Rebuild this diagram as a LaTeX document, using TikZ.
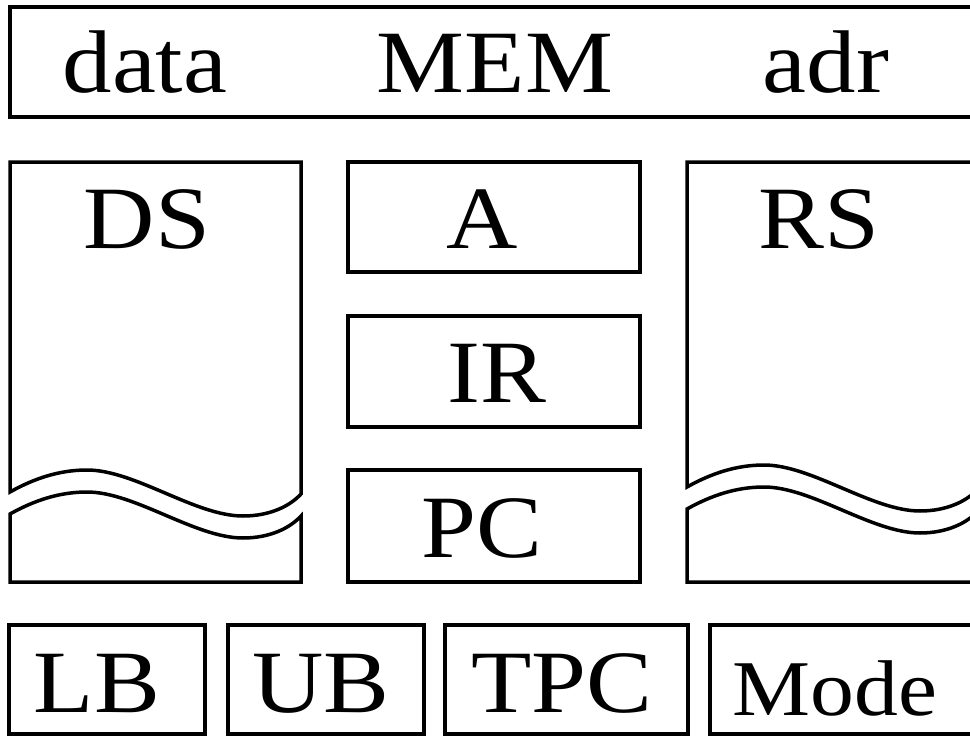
\documentclass[tikz,border=0pt]{standalone}
\usepackage{fontspec}
\setmainfont{Liberation Serif}
\newcommand\wtxt[1]{\scalebox{1.11}[1]{#1}}
\tikzset{
  frame/.style={draw=black, line width=3.5pt, line join=miter},
  box/.style={draw=black, line width=3.5pt, rectangle, inner sep=0pt},
  lbl/.style={font=\fontsize{89}{89}\selectfont, inner sep=0pt, anchor=base},
  lblsmall/.style={font=\fontsize{79}{79}\selectfont, inner sep=0pt, anchor=base}
}
\begin{document}
\begin{tikzpicture}[x=1pt, y=-1pt]
\path[use as bounding box, fill=white] (0,0) rectangle (970,736);
\clip (0,0) rectangle (970,736);

% top memory bar
\node[box, minimum width=975pt, minimum height=110pt] (mem) at (497.5,62) {};
\node[lbl] (tdata) at (145,92) {\wtxt{data}};
\node[lbl] (tmem) at (495,92) {\wtxt{MEM}};
\node[lbl] (tadr) at (826,92) {\wtxt{adr}};

% DS column (broken)
\draw[frame] (10,492) .. controls (35,478) and (60,470) .. (87,470)
  .. controls (135,470) and (195,516) .. (243,516)
  .. controls (270,516) and (290,506) .. (301,494)
  -- (301,162) -- (10,162) -- cycle;
\draw[frame] (10,514) .. controls (35,500) and (60,492) .. (87,492)
  .. controls (135,492) and (195,538) .. (243,538)
  .. controls (270,538) and (290,528) .. (301,516)
  -- (301,582) -- (10,582) -- cycle;
\node[lbl] (tds) at (147,248) {\wtxt{DS}};

% RS column (broken)
\draw[frame] (687,487) .. controls (712,473) and (737,465) .. (764,465)
  .. controls (812,465) and (872,511) .. (920,511)
  .. controls (947,511) and (967,501) .. (978,489)
  -- (978,162) -- (687,162) -- cycle;
\draw[frame] (687,509) .. controls (712,495) and (737,487) .. (764,487)
  .. controls (812,487) and (872,533) .. (920,533)
  .. controls (947,533) and (967,523) .. (978,511)
  -- (978,582) -- (687,582) -- cycle;
\node[lbl] (trs) at (819,248) {\wtxt{RS}};

% middle registers
\node[box, minimum width=292pt, minimum height=110pt] (boxa) at (494,217) {};
\node[lbl] (ta) at (482,248) {\wtxt{A}};
\node[box, minimum width=292pt, minimum height=111pt] (boxir) at (494,371.5) {};
\node[lbl] (tir) at (497,402) {\wtxt{IR}};
\node[box, minimum width=292pt, minimum height=112pt] (boxpc) at (494,526) {};
\node[lbl] (tpc) at (482,557) {\wtxt{PC}};

% bottom row
\node[box, minimum width=196pt, minimum height=109pt] (boxlb) at (107,679.5) {};
\node[lbl] (tlb) at (97,712) {\wtxt{LB}};
\node[box, minimum width=196pt, minimum height=109pt] (boxub) at (326,679.5) {};
\node[lbl] (tub) at (321,712) {\wtxt{UB}};
\node[box, minimum width=243pt, minimum height=109pt] (boxtpc) at (566.5,679.5) {};
\node[lbl] (ttpc) at (562,712) {\wtxt{TPC}};
\node[box, minimum width=280pt, minimum height=109pt] (boxmode) at (850,679.5) {};
\node[lblsmall] (tmode) at (835,715) {\wtxt{Mode}};
\end{tikzpicture}
\end{document}
